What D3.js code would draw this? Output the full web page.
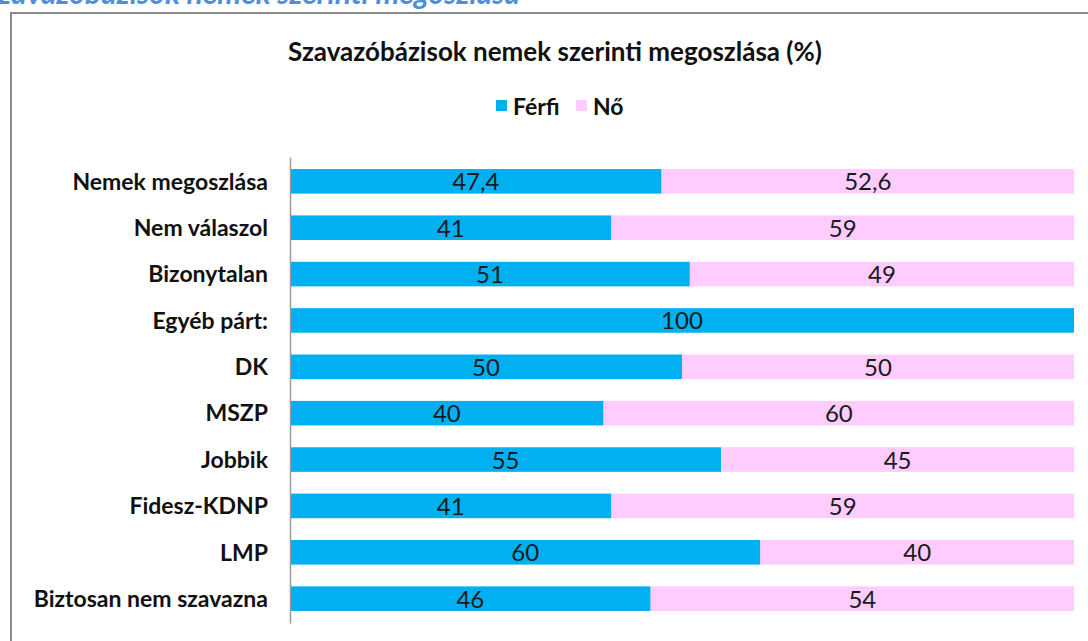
<!DOCTYPE html>
<html lang="hu">
<head>
<meta charset="UTF-8">
<title>Szavazóbázisok nemek szerinti megoszlása</title>
<script src="https://cdn.jsdelivr.net/npm/d3@7"></script>
<style>
    body { margin: 0; background: #fff; }
    svg text { font-family: Lato, "Open Sans", sans-serif; }
</style>
</head>
<body>
<div id="chartArea"></div>
<script>
    const categories = ['Nemek megoszlása', 'Nem válaszol', 'Bizonytalan', 'Egyéb párt:', 'DK',
        'MSZP', 'Jobbik', 'Fidesz-KDNP', 'LMP', 'Biztosan nem szavazna'];
    const ferfi = [47.4, 41, 51, 100, 50, 40, 55, 41, 60, 46];
    const no = [52.6, 59, 49, 0, 50, 60, 45, 59, 40, 54];
    const seriesNames = ['Férfi', 'Nő'];
    const colors = ['#00B0F0', '#FFCCFF'];

    const W = 1088, H = 641;
    const margin = { top: 157, right: 14, bottom: 18, left: 290 };

    const svg = d3.select('#chartArea').append('svg')
        .attr('width', W)
        .attr('height', H);

    // page heading, cut off at the top like in the source
    svg.append('text')
        .attr('x', 520).attr('y', 4)
        .attr('text-anchor', 'end')
        .style('font-size', '30px')
        .style('font-weight', 'bold')
        .style('font-style', 'italic')
        .style('fill', '#4F8FD9')
        .text('Szavazóbázisok nemek szerinti megoszlása');

    // chart frame
    svg.append('rect')
        .attr('x', 11).attr('y', 13)
        .attr('width', W + 20).attr('height', H + 20)
        .attr('fill', 'none')
        .attr('stroke', '#8a8a8a')
        .attr('stroke-width', 2);

    svg.append('text')
        .attr('x', 555).attr('y', 61)
        .attr('text-anchor', 'middle')
        .style('font-size', '26px')
        .style('font-weight', 'bold')
        .style('fill', '#111')
        .text('Szavazóbázisok nemek szerinti megoszlása (%)');

    // legend
    const legend = svg.append('g').attr('transform', 'translate(496,100)');
    const legendX = [0, 80];
    seriesNames.forEach((s, i) => {
        legend.append('rect')
            .attr('x', legendX[i]).attr('y', 0)
            .attr('width', 11).attr('height', 11)
            .attr('fill', colors[i]);
        legend.append('text')
            .attr('x', legendX[i] + 17).attr('y', 15)
            .style('font-size', '23px')
            .style('font-weight', 'bold')
            .style('fill', '#111')
            .text(s);
    });

    const xScale = d3.scaleLinear()
        .domain([0, 100])
        .range([margin.left, 1074]);

    const yScale = d3.scaleBand()
        .domain(categories)
        .range([margin.top, 623])
        .paddingInner(0.47)
        .paddingOuter(0.26);

    const rows = categories.map((c, i) => ({ cat: c, f: ferfi[i], n: no[i] }));

    const stack = d3.stack().keys(['f', 'n'])(rows);

    const layers = svg.selectAll('g.layer')
        .data(stack)
        .enter()
        .append('g')
        .attr('class', 'layer')
        .attr('fill', (d, i) => colors[i]);

    layers.selectAll('rect')
        .data(d => d)
        .enter()
        .append('rect')
        .attr('x', d => xScale(d[0]))
        .attr('y', d => yScale(d.data.cat))
        .attr('width', d => xScale(d[1]) - xScale(d[0]))
        .attr('height', yScale.bandwidth());

    layers.selectAll('text')
        .data(d => d.filter(p => p[1] - p[0] > 0))
        .enter()
        .append('text')
        .attr('x', d => (xScale(d[0]) + xScale(d[1])) / 2)
        .attr('y', d => yScale(d.data.cat) + yScale.bandwidth() / 2 + 9)
        .attr('text-anchor', 'middle')
        .style('font-size', '24px')
        .style('fill', '#1a1a1a')
        .text(d => String(+(d[1] - d[0]).toFixed(1)).replace('.', ','));

    // category axis
    const yAxis = d3.axisLeft(yScale).tickSize(0).tickPadding(22);
    const gy = svg.append('g')
        .attr('transform', `translate(${margin.left},0)`)
        .call(yAxis);
    gy.select('.domain').attr('stroke', '#9a9a9a').attr('stroke-width', 1.5);
    gy.selectAll('text')
        .attr('dy', '0.36em')
        .style('font-size', '23px')
        .style('font-weight', 'bold')
        .style('fill', '#111');
</script>
</body>
</html>
